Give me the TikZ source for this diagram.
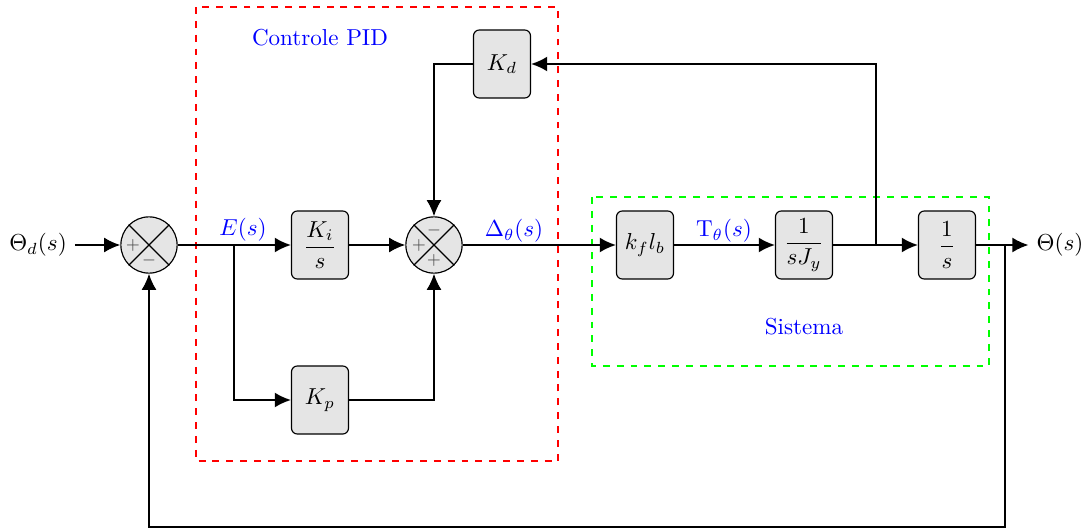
\documentclass[tikz,border=0pt]{standalone}
\usepackage{amsmath}
\usetikzlibrary{arrows.meta}
\begin{document}
\begin{tikzpicture}[x=0.4336pt,y=-0.4336pt,
  blk/.style={draw=black, fill=gray!20, rounded corners=2.5pt, minimum width=24.7pt, minimum height=29.5pt, inner sep=0pt, line width=0.5pt},
  sumj/.style={draw=black, fill=gray!20, circle, minimum size=24.4pt, inner sep=0pt, line width=0.5pt},
  sgn/.style={font=\scriptsize, text=black!70, inner sep=0pt},
  wire/.style={line width=0.8pt},
  arr/.style={wire, -{Latex[length=7pt,width=6.5pt]}},
  lbl/.style={text=blue, inner sep=1pt},
  frame/.style={line width=0.8pt, dashed}]
\useasboundingbox (0,0) rectangle (1092,532);

% controller and plant frames
\draw[frame, red] (196,7) rectangle (558,461);
\draw[frame, green] (592,197) rectangle (989,366);
\node[lbl] (pidlbl) at (320,38) {Controle PID};
\node[lbl] (syslbl) at (804,327) {Sistema};

% summing junctions
\node[sumj] (s1) at (149,245) {};
\draw[line width=0.5pt] (s1.north west) -- (s1.south east) (s1.north east) -- (s1.south west);
\node[sgn] (s1a) at (133,245) {$+$};
\node[sgn] (s1b) at (149,260) {$-$};

\node[sumj] (s2) at (434,245) {};
\draw[line width=0.5pt] (s2.north west) -- (s2.south east) (s2.north east) -- (s2.south west);
\node[sgn] (s2a) at (434,230) {$-$};
\node[sgn] (s2b) at (419,245) {$+$};
\node[sgn] (s2c) at (434,260) {$+$};

% blocks
\node[blk] (ki) at (320,245) {$\dfrac{K_i}{s}$};
\node[blk] (kp) at (320,400) {$K_p$};
\node[blk] (kd) at (502,64) {$K_d$};
\node[blk] (kf) at (645,245) {$k_f l_b$};
\node[blk] (sj) at (804,245) {$\dfrac{1}{sJ_y}$};
\node[blk] (is) at (947,245) {$\dfrac{1}{s}$};

% input and output
\node (in) at (38,245) {$\Theta_d(s)$};
\node (out) at (1060,245) {$\Theta(s)$};

% branch points
\coordinate (b1) at (234,245);
\coordinate (b2) at (876,245);
\coordinate (b3) at (1005,245);
\coordinate (b4) at (1005,527);

% signal labels
\node[lbl] (el) at (243,230) {$E(s)$};
\node[lbl] (dl) at (514,231) {$\Delta_\theta(s)$};
\node[lbl] (tl) at (724,231) {$\mathrm{T}_\theta(s)$};

% connectors
\draw[arr] (in.east) -- (s1.west);
\draw[wire] (s1.east) -- (b1);
\draw[arr] (b1) -- (ki.west);
\draw[arr] (b1) |- (kp.west);
\draw[arr] (ki.east) -- (s2.west);
\draw[arr] (kp.east) -| (s2.south);
\draw[arr] (kd.west) -| (s2.north);
\draw[arr] (s2.east) -- (kf.west);
\draw[arr] (kf.east) -- (sj.west);
\draw[arr] (sj.east) -- (is.west);
\draw[arr] (b2) |- (kd.east);
\draw[arr] (is.east) -- (out.west);
\draw[arr] (b3) -- (b4) -| (s1.south);
\end{tikzpicture}
\end{document}
